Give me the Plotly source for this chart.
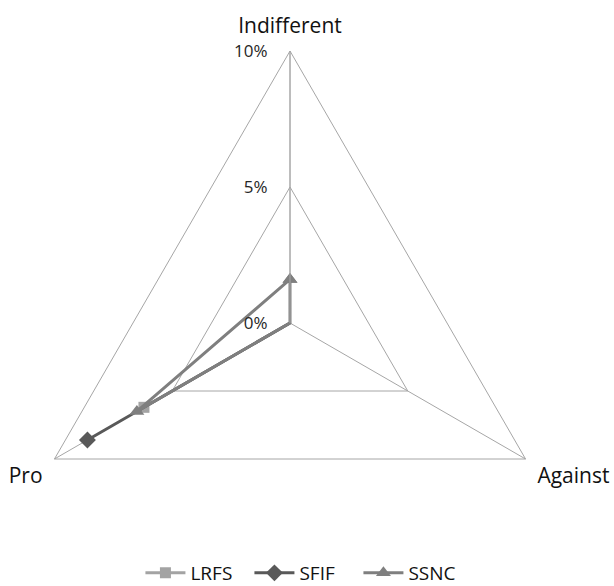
import plotly.graph_objects as go

# Survey positions per group, percentage of respondents
categories = ["Indifferent", "Against", "Pro"]
lrfs = [0.0, 0.0, 6.2]
sfif = [0.0, 0.0, 8.6]
ssnc = [1.6, 0.0, 6.5]

radial_ticks = [0, 5, 10]
radial_labels = ["0%", "5%", "10%"]

W, H = 614, 600
FONT = "Open Sans"

series = [
    ("LRFS", lrfs, "#a3a3a3", "square", 11),
    ("SFIF", sfif, "#595959", "diamond", 13),
    ("SSNC", ssnc, "#7f7f7f", "triangle-up", 13),
]

fig = go.Figure()
for name, vals, color, symbol, size in series:
    fig.add_trace(go.Scatterpolar(
        r=vals + vals[:1],
        theta=categories + categories[:1],
        name=name,
        mode="lines+markers",
        line=dict(color=color, width=3),
        marker=dict(symbol=symbol, size=size, color=color),
    ))

cx, cy, rad = 290, 323, 272
fig.update_layout(
    width=W, height=H,
    margin=dict(l=0, r=0, t=0, b=0),
    paper_bgcolor="white",
    plot_bgcolor="white",
    font=dict(family=FONT, size=15, color="#222222"),
    polar=dict(
        domain=dict(x=[(cx - rad) / W, (cx + rad) / W],
                    y=[1 - (cy + rad) / H, 1 - (cy - rad) / H]),
        gridshape="linear",
        bgcolor="white",
        radialaxis=dict(
            range=[0, 10], tickvals=radial_ticks, ticktext=radial_labels,
            angle=90, tickangle=90, side="counterclockwise",
            showline=True, linecolor="#a6a6a6", linewidth=1,
            gridcolor="#a6a6a6", gridwidth=1,
            ticks="outside", ticklen=16, tickcolor="rgba(0,0,0,0)",
            tickfont=dict(family=FONT, size=17, color="#262626"),
        ),
        angularaxis=dict(
            rotation=90, direction="clockwise",
            showline=True, linecolor="#a6a6a6", linewidth=1,
            gridcolor="#a6a6a6", gridwidth=1,
            ticks="outside", ticklen=9, tickcolor="rgba(0,0,0,0)",
            tickfont=dict(family=FONT, size=21, color="#111111"),
        ),
    ),
    legend=dict(
        orientation="h", x=0.495, xanchor="center",
        y=1 - 573 / H, yanchor="middle",
        font=dict(family=FONT, size=19, color="#111111"),
        itemwidth=40, entrywidth=54,
    ),
)

fig.write_html(
    "out.html",
    post_script="document.documentElement.style.overflow='hidden';"
                "document.body.style.overflow='hidden';",
)
